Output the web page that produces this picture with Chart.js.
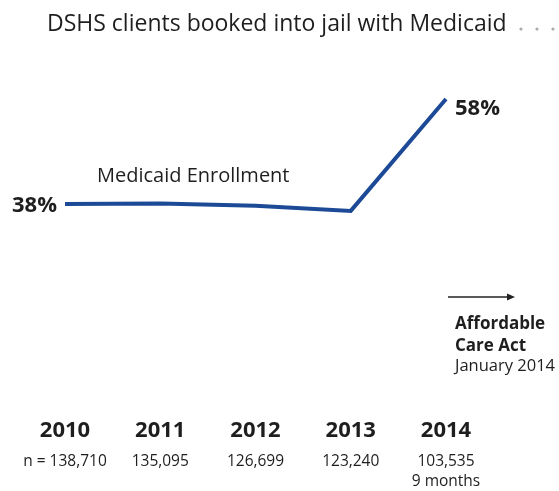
<!DOCTYPE html>
<html>
<head>
<meta charset="utf-8">
<script src="https://cdn.jsdelivr.net/npm/chart.js@4"></script>
<style>
  html, body { margin: 0; padding: 0; background: #fff; }
  #wrap { width: 559px; height: 491px; position: relative; }
</style>
</head>
<body>
<div id="wrap"><canvas id="jail-medicaid-chart"></canvas></div>
<script>
// Share of DSHS clients booked into jail who had Medicaid, by year
const years = ['2010', '2011', '2012', '2013', '2014'];
const bookings = ['n = 138,710', '135,095', '126,699', '123,240', ['103,535', '9 months']];
const enrollmentPct = [38, 38.1, 37.7, 36.7, 58];

const titleText = 'DSHS clients booked into jail with Medicaid';
const seriesName = 'Medicaid Enrollment';
const noteLines = ['Affordable', 'Care Act', 'January 2014'];

const FONT = '"Open Sans", "Liberation Sans", sans-serif';
const INK = '#1e1e1e';
const LINE = '#1d4a96';

// title, end labels and the ACA note are plain canvas text
const annotations = {
    id: 'annotations',
    afterDatasetsDraw(chart) {
        const ctx = chart.ctx;
        const meta = chart.getDatasetMeta(0);
        const first = meta.data[0];
        const last = meta.data[meta.data.length - 1];

        ctx.save();
        ctx.fillStyle = INK;
        ctx.textBaseline = 'alphabetic';
        ctx.textAlign = 'left';
        ctx.font = '23px ' + FONT;
        ctx.fillText(titleText, 47, 31);
        ctx.fillStyle = '#aaa';
        [521, 537, 553].forEach((dx) => {
            ctx.beginPath();
            ctx.arc(dx, 29, 1.6, 0, Math.PI * 2);
            ctx.fill();
        });

        ctx.fillStyle = INK;
        ctx.font = '20px ' + FONT;
        ctx.fillText(seriesName, 97, 182);

        // value labels at both ends of the line
        ctx.font = 'bold 22px ' + FONT;
        ctx.textBaseline = 'middle';
        ctx.textAlign = 'right';
        ctx.fillText(enrollmentPct[0] + '%', first.x - 8, first.y + 2);
        ctx.textAlign = 'left';
        ctx.fillText(enrollmentPct[enrollmentPct.length - 1] + '%', last.x + 9, last.y + 10);

        // ACA arrow + note
        const ax = last.x + 2;
        ctx.strokeStyle = '#222';
        ctx.lineWidth = 1.5;
        ctx.beginPath();
        ctx.moveTo(ax, 297);
        ctx.lineTo(ax + 60, 297);
        ctx.stroke();
        ctx.fillStyle = '#222';
        ctx.beginPath();
        ctx.moveTo(ax + 67, 297);
        ctx.lineTo(ax + 59, 293.5);
        ctx.lineTo(ax + 59, 300.5);
        ctx.closePath();
        ctx.fill();

        ctx.fillStyle = INK;
        ctx.font = 'bold 17px ' + FONT;
        ctx.fillText(noteLines[0], 455, 324);
        ctx.fillText(noteLines[1], 455, 346);
        ctx.font = '16.5px ' + FONT;
        ctx.fillText(noteLines[2], 455, 366);
        ctx.restore();
    },
};

new Chart(document.getElementById('jail-medicaid-chart'), {
    type: 'line',
    data: {
        labels: years,
        datasets: [{
            label: seriesName,
            data: enrollmentPct,
            borderColor: LINE,
            borderWidth: 4,
            pointRadius: 0,
            tension: 0,
            fill: false,
        }],
    },
    options: {
        responsive: true,
        maintainAspectRatio: false,
        animation: false,
        // plot area runs down to the year labels; y range keeps 38% / 58% where they sit
        layout: { padding: { left: 65, right: 113, top: 57, bottom: -8.4 } },
        plugins: {
            legend: { display: false },
            tooltip: { enabled: false },
        },
        scales: {
            y: { display: false, min: -2.7, max: 66 },
            x: {
                offset: false,
                grid: { display: false, drawTicks: false },
                border: { display: false },
                ticks: {
                    padding: 0,
                    color: INK,
                    maxRotation: 0,
                    autoSkip: false,
                    font: { family: FONT, size: 22, weight: 'bold', lineHeight: 1.2 },
                },
            },
            // n per year sits right under the year labels
            x2: {
                type: 'category',
                labels: bookings,
                position: 'bottom',
                offset: false,
                grid: { display: false, drawTicks: false },
                border: { display: false },
                ticks: {
                    padding: 7.6,
                    color: INK,
                    maxRotation: 0,
                    autoSkip: false,
                    font: { family: FONT, size: 15.5, lineHeight: 1.29 },
                },
            },
        },
    },
    plugins: [annotations],
});
</script>
</body>
</html>
